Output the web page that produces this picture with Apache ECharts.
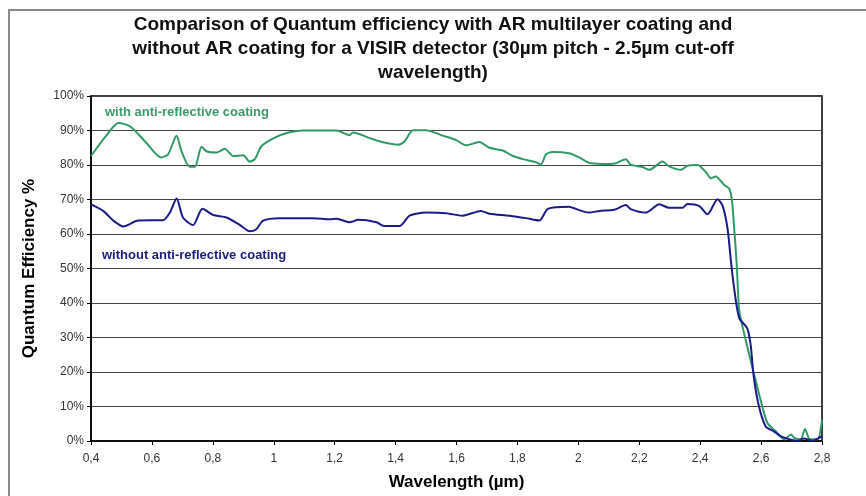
<!DOCTYPE html>
<html>
<head>
<meta charset="utf-8">
<script src="https://cdn.jsdelivr.net/npm/echarts@6/dist/echarts.min.js"></script>
<style>
  html, body { margin: 0; padding: 0; background: #fff; }
  #chart { width: 866px; height: 496px; }
</style>
</head>
<body>
<div id="chart"></div>
<script>
// Wavelength (µm) and quantum efficiency (%) with the AR multilayer coating
const arWavelength = [0.40, 0.45, 0.49, 0.53, 0.58, 0.63, 0.653, 0.681, 0.697, 0.724, 0.741, 0.763, 0.779, 0.812, 0.839, 0.867, 0.90, 0.921, 0.938, 0.96, 1.00, 1.04, 1.096, 1.18, 1.206, 1.249, 1.26, 1.315, 1.359, 1.408, 1.43, 1.457, 1.50, 1.555, 1.599, 1.632, 1.675, 1.708, 1.752, 1.785, 1.818, 1.861, 1.877, 1.894, 1.916, 1.97, 2.003, 2.041, 2.102, 2.123, 2.156, 2.172, 2.211, 2.233, 2.277, 2.298, 2.337, 2.358, 2.391, 2.419, 2.435, 2.451, 2.479, 2.495, 2.504, 2.511, 2.52, 2.528, 2.541, 2.572, 2.599, 2.621, 2.648, 2.676, 2.698, 2.71, 2.73, 2.744, 2.76, 2.785, 2.80];
const arEfficiency = [82.6, 88.5, 92.2, 91.1, 86.6, 82.2, 83.1, 88.5, 84.0, 79.5, 79.5, 85.3, 84.0, 83.6, 84.7, 82.6, 82.8, 81.0, 81.7, 85.5, 87.8, 89.2, 90.0, 90.0, 90.0, 88.7, 89.4, 87.8, 86.6, 85.9, 86.9, 90.1, 90.1, 88.5, 87.2, 85.7, 86.7, 85.0, 84.2, 82.6, 81.7, 80.8, 80.1, 83.1, 83.8, 83.4, 82.2, 80.5, 80.3, 80.5, 81.7, 80.1, 79.4, 78.6, 81.0, 79.6, 78.6, 79.8, 80.0, 77.9, 76.1, 76.7, 74.2, 73.2, 70.0, 62.5, 51.2, 38.0, 32.4, 21.1, 11.7, 5.2, 2.8, 0.5, 1.9, 0.8, 0.5, 3.5, 0.5, 0.5, 6.1];

// Wavelength (µm) and quantum efficiency (%) without AR coating
const bareWavelength = [0.40, 0.44, 0.473, 0.506, 0.555, 0.637, 0.659, 0.681, 0.702, 0.735, 0.766, 0.801, 0.845, 0.889, 0.921, 0.943, 0.965, 1.02, 1.129, 1.184, 1.206, 1.249, 1.277, 1.337, 1.364, 1.413, 1.446, 1.50, 1.566, 1.62, 1.68, 1.708, 1.774, 1.828, 1.872, 1.90, 1.97, 1.981, 2.036, 2.069, 2.118, 2.156, 2.172, 2.221, 2.266, 2.298, 2.342, 2.358, 2.397, 2.424, 2.457, 2.474, 2.49, 2.501, 2.511, 2.528, 2.555, 2.566, 2.575, 2.591, 2.615, 2.642, 2.664, 2.692, 2.72, 2.74, 2.77, 2.80];
const bareEfficiency = [68.6, 66.7, 63.9, 62.2, 63.9, 64.0, 66.2, 70.3, 64.8, 62.6, 67.3, 65.5, 64.8, 62.6, 60.8, 61.4, 63.9, 64.6, 64.6, 64.3, 64.4, 63.4, 64.1, 63.4, 62.3, 62.3, 65.3, 66.2, 66.0, 65.3, 66.7, 65.9, 65.3, 64.6, 63.9, 67.3, 67.9, 67.6, 66.2, 66.7, 67.0, 68.4, 67.2, 66.2, 68.6, 67.6, 67.6, 68.7, 68.1, 65.7, 70.1, 68.1, 61.5, 52.1, 44.6, 35.7, 32.6, 27.7, 19.3, 10.8, 4.2, 2.8, 1.4, 0.5, 0.0, 0.7, 0.1, 1.5];

const titleLines = [
  'Comparison of Quantum efficiency with AR multilayer coating and',
  'without AR coating for a VISIR detector (30µm pitch - 2.5µm cut-off',
  'wavelength)'
];
const arLabel = 'with anti-reflective coating';
const bareLabel = 'without anti-reflective coating';

const pairs = (xs, ys) => xs.map((x, i) => [x, ys[i]]);

const chart = echarts.init(document.getElementById('chart'), null, { renderer: 'canvas' });
const FONT = '"Liberation Sans", Arial, sans-serif';

chart.setOption({
  animation: false,
  backgroundColor: '#fff',
  title: {
    text: titleLines.join('\n'),
    left: 'center',
    top: 8,
    textStyle: { fontFamily: FONT, fontWeight: 'bold', fontSize: 19, color: '#111', lineHeight: 24 }
  },
  grid: {
    left: 91, right: 44, top: 96, bottom: 44,
    show: true, borderColor: '#000', borderWidth: 1.5
  },
  xAxis: {
    type: 'value',
    min: 0.4, max: 2.8, interval: 0.2,
    name: 'Wavelength (µm)',
    nameLocation: 'middle',
    nameGap: 33,
    nameTextStyle: { fontFamily: FONT, fontWeight: 'bold', fontSize: 17, color: '#000' },
    axisLine: { lineStyle: { color: '#000', width: 1.5 } },
    axisTick: { length: 4, lineStyle: { color: '#000' } },
    splitLine: { show: false },
    axisLabel: {
      fontFamily: FONT, fontSize: 12, color: '#333', margin: 12,
      formatter: v => String(Math.round(v * 10) / 10).replace('.', ',')
    }
  },
  yAxis: {
    type: 'value',
    min: 0, max: 100, interval: 10,
    name: 'Quantum Efficiency %',
    nameLocation: 'middle',
    nameGap: 53,
    nameTextStyle: { fontFamily: FONT, fontWeight: 'bold', fontSize: 17, color: '#000' },
    axisLine: { show: true, lineStyle: { color: '#000', width: 1.5 } },
    axisTick: { show: true, length: 4, lineStyle: { color: '#000' } },
    splitLine: { lineStyle: { color: '#444', width: 1.2 } },
    axisLabel: { fontFamily: FONT, fontSize: 12, color: '#333', margin: 7, formatter: '{value}%' }
  },
  series: [
    {
      name: arLabel,
      type: 'line',
      data: pairs(arWavelength, arEfficiency),
      smooth: 0.25,
      showSymbol: false,
      lineStyle: { color: '#2f9a68', width: 2 },
      z: 3
    },
    {
      name: bareLabel,
      type: 'line',
      data: pairs(bareWavelength, bareEfficiency),
      smooth: 0.25,
      showSymbol: false,
      lineStyle: { color: '#1a1a8a', width: 2 },
      z: 4
    }
  ],
  graphic: [
    {
      type: 'rect',
      shape: { x: 9, y: 10, width: 880, height: 520 },
      style: { fill: null, stroke: '#8a8a8a', lineWidth: 2 },
      silent: true
    },
    {
      type: 'text',
      left: 105, top: 106,
      style: { text: arLabel, fill: '#3a9a6a', font: 'bold 13px ' + FONT }
    },
    {
      type: 'text',
      left: 102, top: 249,
      style: { text: bareLabel, fill: '#1c1c7c', font: 'bold 13px ' + FONT }
    }
  ]
});
</script>
</body>
</html>
